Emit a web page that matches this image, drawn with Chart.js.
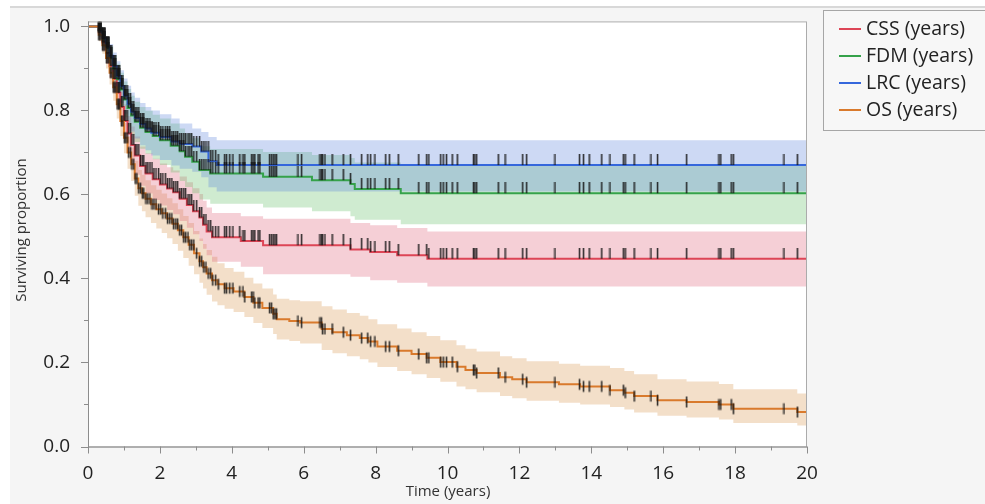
<!DOCTYPE html>
<html>
<head>
<meta charset="utf-8">
<script src="https://cdn.jsdelivr.net/npm/chart.js@4.4.1/dist/chart.umd.min.js"></script>
<style>
  html, body { margin: 0; padding: 0; background: #fff; }
  #wrap { width: 985px; height: 504px; }
</style>
</head>
<body>
<div id="wrap"><canvas id="km" width="985" height="504"></canvas></div>
<script>
// series labels and colours
const seriesNames = ['CSS (years)', 'FDM (years)', 'LRC (years)', 'OS (years)'];
const lineColors = ['#dd4556', '#35a24a', '#3567dc', '#d97a2c'];
const bandColors = ['rgba(222,95,118,0.3)', 'rgba(95,188,101,0.3)', 'rgba(88,128,218,0.3)', 'rgba(216,148,75,0.3)'];

// CSS
const cssTime  = [0, 0.3, 0.4, 0.5, 0.6, 0.7, 0.8, 0.9, 1.0, 1.1, 1.2, 1.3, 1.45, 1.6, 1.8, 2.0, 2.2, 2.37, 2.55, 2.75, 2.92, 3.1, 3.2, 3.3, 3.45, 4.25, 4.87, 7.3, 7.85, 8.6, 9.44, 20];
const cssSurv  = [1.0, 0.985, 0.962, 0.936, 0.906, 0.875, 0.842, 0.808, 0.775, 0.745, 0.718, 0.693, 0.668, 0.65, 0.636, 0.624, 0.614, 0.605, 0.59, 0.575, 0.56, 0.545, 0.528, 0.512, 0.498, 0.489, 0.479, 0.469, 0.463, 0.455, 0.447, 0.447];
const cssUpper = [1.0, 0.996, 0.98, 0.959, 0.934, 0.907, 0.877, 0.846, 0.815, 0.787, 0.762, 0.738, 0.714, 0.698, 0.685, 0.674, 0.665, 0.657, 0.643, 0.629, 0.615, 0.601, 0.585, 0.569, 0.556, 0.548, 0.542, 0.532, 0.527, 0.52, 0.512, 0.512];
const cssLower = [1.0, 0.97, 0.942, 0.911, 0.877, 0.842, 0.806, 0.769, 0.733, 0.702, 0.673, 0.647, 0.621, 0.602, 0.587, 0.574, 0.563, 0.553, 0.537, 0.521, 0.505, 0.489, 0.471, 0.455, 0.44, 0.428, 0.41, 0.404, 0.396, 0.39, 0.381, 0.381];

// FDM
const fdmTime  = [0, 0.3, 0.4, 0.5, 0.6, 0.7, 0.8, 0.9, 1.0, 1.1, 1.2, 1.3, 1.45, 1.6, 1.8, 2.0, 2.3, 2.55, 2.7, 2.9, 3.1, 3.4, 4.87, 6.23, 7.3, 7.42, 8.7, 20];
const fdmSurv  = [1.0, 0.99, 0.97, 0.948, 0.924, 0.899, 0.874, 0.85, 0.826, 0.806, 0.788, 0.773, 0.759, 0.749, 0.739, 0.729, 0.716, 0.703, 0.69, 0.678, 0.658, 0.65, 0.642, 0.634, 0.625, 0.613, 0.603, 0.603];
const fdmUpper = [1.0, 1.0, 0.988, 0.972, 0.953, 0.932, 0.911, 0.89, 0.869, 0.851, 0.835, 0.821, 0.808, 0.799, 0.79, 0.781, 0.769, 0.757, 0.745, 0.734, 0.715, 0.708, 0.701, 0.694, 0.687, 0.676, 0.668, 0.668];
const fdmLower = [1.0, 0.975, 0.95, 0.924, 0.896, 0.867, 0.839, 0.811, 0.784, 0.762, 0.742, 0.725, 0.709, 0.697, 0.684, 0.67, 0.652, 0.632, 0.618, 0.603, 0.588, 0.578, 0.569, 0.56, 0.548, 0.54, 0.529, 0.529];

// LRC
const lrcTime  = [0, 0.3, 0.4, 0.5, 0.6, 0.7, 0.8, 0.9, 1.0, 1.1, 1.2, 1.3, 1.45, 1.6, 1.76, 2.0, 2.32, 2.55, 2.9, 3.15, 3.35, 3.58, 20];
const lrcSurv  = [1.0, 0.99, 0.972, 0.952, 0.93, 0.906, 0.882, 0.858, 0.835, 0.815, 0.797, 0.782, 0.768, 0.757, 0.747, 0.737, 0.726, 0.72, 0.714, 0.702, 0.679, 0.67, 0.67];
const lrcUpper = [1.0, 1.0, 0.99, 0.975, 0.958, 0.938, 0.917, 0.896, 0.876, 0.859, 0.843, 0.83, 0.818, 0.808, 0.8, 0.791, 0.781, 0.769, 0.757, 0.749, 0.737, 0.729, 0.729];
const lrcLower = [1.0, 0.975, 0.952, 0.927, 0.9, 0.872, 0.845, 0.818, 0.792, 0.77, 0.75, 0.733, 0.717, 0.705, 0.693, 0.682, 0.669, 0.661, 0.654, 0.641, 0.617, 0.607, 0.607];

// OS
const osTime  = [0, 0.3, 0.4, 0.5, 0.6, 0.7, 0.8, 0.9, 1.0, 1.1, 1.2, 1.3, 1.4, 1.5, 1.6, 1.75, 1.9, 2.05, 2.2, 2.35, 2.5, 2.65, 2.8, 2.95, 3.1, 3.2, 3.3, 3.45, 3.6, 3.8, 4.05, 4.35, 4.6, 4.85, 5.15, 5.25, 5.6, 5.9, 6.5, 6.8, 7.2, 7.56, 7.8, 8.05, 8.6, 9.0, 9.42, 9.8, 10.25, 10.5, 10.81, 11.46, 11.8, 12.2, 13.1, 13.69, 14.52, 14.92, 15.19, 15.84, 16.65, 17.55, 17.95, 19.73, 20];
const osSurv  = [1.0, 0.98, 0.955, 0.925, 0.89, 0.855, 0.815, 0.775, 0.735, 0.70, 0.672, 0.638, 0.615, 0.603, 0.59, 0.577, 0.565, 0.555, 0.543, 0.53, 0.515, 0.498, 0.48, 0.46, 0.441, 0.427, 0.412, 0.396, 0.386, 0.377, 0.369, 0.356, 0.342, 0.33, 0.316, 0.303, 0.299, 0.295, 0.28, 0.272, 0.265, 0.258, 0.25, 0.238, 0.228, 0.22, 0.211, 0.201, 0.19, 0.182, 0.175, 0.165, 0.16, 0.153, 0.148, 0.143, 0.134, 0.128, 0.12, 0.11, 0.106, 0.10, 0.09, 0.082, 0.082];
const osUpper = [1.0, 0.99, 0.972, 0.946, 0.915, 0.883, 0.846, 0.808, 0.77, 0.738, 0.712, 0.68, 0.658, 0.647, 0.634, 0.622, 0.611, 0.602, 0.591, 0.579, 0.565, 0.549, 0.532, 0.513, 0.495, 0.482, 0.468, 0.452, 0.436, 0.425, 0.416, 0.402, 0.388, 0.376, 0.362, 0.352, 0.348, 0.346, 0.334, 0.326, 0.318, 0.311, 0.303, 0.291, 0.281, 0.272, 0.263, 0.253, 0.241, 0.233, 0.226, 0.215, 0.21, 0.203, 0.197, 0.192, 0.187, 0.18, 0.172, 0.16, 0.155, 0.149, 0.136, 0.126, 0.126];
const osLower = [1.0, 0.965, 0.935, 0.9, 0.862, 0.823, 0.781, 0.739, 0.698, 0.661, 0.632, 0.597, 0.573, 0.56, 0.546, 0.532, 0.519, 0.508, 0.496, 0.482, 0.466, 0.449, 0.43, 0.41, 0.39, 0.376, 0.361, 0.345, 0.336, 0.328, 0.32, 0.308, 0.294, 0.282, 0.268, 0.255, 0.251, 0.245, 0.23, 0.222, 0.215, 0.208, 0.2, 0.189, 0.18, 0.172, 0.163, 0.154, 0.143, 0.136, 0.129, 0.12, 0.115, 0.109, 0.104, 0.1, 0.094, 0.088, 0.081, 0.073, 0.069, 0.064, 0.056, 0.05, 0.05];

// censored follow-up times (shared cohort)
const censorTimes = [0.30, 0.33, 0.36, 0.40, 0.44, 0.47, 0.51, 0.55, 0.58, 0.62, 0.66, 0.70, 0.73, 0.77, 0.81, 0.85, 0.88, 0.93, 0.97,
  1.01, 1.05, 1.09, 1.13, 1.18, 1.22, 1.27, 1.31, 1.36, 1.41, 1.46, 1.51, 1.55, 1.61, 1.66, 1.72, 1.78, 1.83, 1.89, 1.96,
  2.02, 2.08, 2.15, 2.21, 2.27, 2.33, 2.38, 2.44, 2.49, 2.55, 2.60, 2.66, 2.71, 2.78, 2.83, 2.88, 2.94,
  3.02, 3.10, 3.16, 3.22, 3.28, 3.34, 3.41, 3.47, 3.55, 3.62, 3.80, 3.85, 3.94,
  4.03, 4.22, 4.31, 4.36, 4.55, 4.59, 4.64, 4.73, 4.78, 5.05, 5.10, 5.15, 5.20, 5.24, 5.84, 5.94,
  6.45, 6.49, 6.52, 6.59, 6.79, 7.10, 7.30, 7.61, 7.78, 7.86, 7.98, 8.28, 8.38, 8.63, 9.20, 9.42, 9.48, 9.81, 9.88, 9.97,
  10.13, 10.27, 10.72, 10.76, 10.81, 11.41, 11.60, 12.09, 12.20, 12.99, 13.67, 13.78, 13.94, 14.29, 14.52, 14.89, 14.94,
  15.19, 15.66, 15.84, 16.65, 17.55, 17.60, 17.89, 17.95, 19.36, 19.73];

// axis ticks
const xTicks = [0, 2, 4, 6, 8, 10, 12, 14, 16, 18, 20];
const xMinor = [1, 3, 5, 7, 9, 11, 13, 15, 17, 19];
const yTicks = [0, 0.2, 0.4, 0.6, 0.8, 1.0];
const yMinor = [0.1, 0.3, 0.5, 0.7, 0.9];

const FONT = "'Open Sans', 'Noto Sans', sans-serif";

function pts(times, vals) {
  return times.map((t, i) => ({ x: t, y: vals[i] }));
}

// KM value at time t (step function)
function survAt(times, vals, t) {
  let v = vals[0];
  for (let i = 0; i < times.length; i++) {
    if (times[i] <= t) v = vals[i]; else break;
  }
  return v;
}

// censor mark images
function makeTick(h, above) {
  const c = document.createElement('canvas');
  c.width = 3;
  c.height = h * 2;
  const g = c.getContext('2d');
  g.fillStyle = 'rgba(20,20,20,0.85)';
  if (above) g.fillRect(0.75, 0, 1.6, h);
  else g.fillRect(0.75, h / 2, 1.6, h);
  return c;
}
const tickAbove = makeTick(11, true);
const tickMid = makeTick(11, false);

const groups = [
  { time: cssTime, surv: cssSurv, upper: cssUpper, lower: cssLower, mark: tickAbove },
  { time: fdmTime, surv: fdmSurv, upper: fdmUpper, lower: fdmLower, mark: tickAbove },
  { time: lrcTime, surv: lrcSurv, upper: lrcUpper, lower: lrcLower, mark: tickAbove },
  { time: osTime, surv: osSurv, upper: osUpper, lower: osLower, mark: tickMid }
];

const bandOrder = [39, 38, 37, 40];
const datasets = [];
groups.forEach((g, i) => {
  datasets.push({
    label: 'band-up', data: pts(g.time, g.upper), stepped: true,
    borderWidth: 0, pointRadius: 0, fill: '+1', backgroundColor: bandColors[i], order: bandOrder[i]
  });
  datasets.push({
    label: 'band-lo', data: pts(g.time, g.lower), stepped: true,
    borderWidth: 0, pointRadius: 0, fill: false, order: bandOrder[i]
  });
});
groups.forEach((g, i) => {
  datasets.push({
    label: seriesNames[i], data: pts(g.time, g.surv), stepped: true,
    borderColor: lineColors[i], borderWidth: 2, pointRadius: 0, fill: false, order: 20 - i
  });
});
groups.forEach((g, i) => {
  datasets.push({
    type: 'scatter', label: 'censor', showLine: false,
    data: censorTimes.map(t => ({ x: t, y: survAt(g.time, g.surv, t) })),
    pointStyle: g.mark, pointRadius: 5, order: 5 - i
  });
});

const framePlugin = {
  id: 'frame',
  beforeDraw(chart) {
    const { ctx, chartArea: a, width, height } = chart;
    ctx.save();
    ctx.fillStyle = '#ffffff';
    ctx.fillRect(0, 0, width, height);
    ctx.fillStyle = '#f5f5f5';
    ctx.fillRect(10, 8, width - 10, height - 8);
    ctx.fillStyle = '#d8d8d8';
    ctx.fillRect(10, 6, width - 10, 2);
    ctx.fillStyle = '#ffffff';
    ctx.fillRect(a.left, a.top, a.right - a.left, a.bottom - a.top);
    ctx.restore();
  },
  afterDraw(chart) {
    const { ctx, chartArea: a } = chart;
    const xs = chart.scales.x, ys = chart.scales.y;
    ctx.save();
    // plot frame
    ctx.strokeStyle = '#ababab';
    ctx.lineWidth = 1;
    ctx.strokeRect(a.left + 0.5, a.top + 0.5, a.right - a.left - 1, a.bottom - a.top);
    ctx.strokeStyle = '#8c8c8c';
    ctx.beginPath();
    ctx.moveTo(a.left + 0.5, a.top);
    ctx.lineTo(a.left + 0.5, a.bottom + 0.5);
    ctx.lineTo(a.right, a.bottom + 0.5);
    ctx.stroke();
    // tick marks
    ctx.beginPath();
    xTicks.forEach(v => { const x = Math.round(xs.getPixelForValue(v)) + 0.5; ctx.moveTo(x, a.bottom); ctx.lineTo(x, a.bottom + 7); });
    xMinor.forEach(v => { const x = Math.round(xs.getPixelForValue(v)) + 0.5; ctx.moveTo(x, a.bottom); ctx.lineTo(x, a.bottom + 4); });
    yTicks.forEach(v => { const y = Math.round(ys.getPixelForValue(v)) + 0.5; ctx.moveTo(a.left, y); ctx.lineTo(a.left - 7, y); });
    yMinor.forEach(v => { const y = Math.round(ys.getPixelForValue(v)) + 0.5; ctx.moveTo(a.left, y); ctx.lineTo(a.left - 4, y); });
    ctx.stroke();
    // axis titles
    ctx.fillStyle = '#333';
    ctx.font = '15px ' + FONT;
    ctx.textAlign = 'center';
    ctx.textBaseline = 'middle';
    ctx.fillText('Time (years)', 448, 492);
    ctx.translate(22, 230);
    ctx.rotate(-Math.PI / 2);
    ctx.fillText('Surviving proportion', 0, 0);
    ctx.setTransform(1, 0, 0, 1, 0, 0);
    // legend
    ctx.fillStyle = '#f7f7f7';
    ctx.fillRect(823.5, 10.5, 170, 120);
    ctx.strokeStyle = '#a6a6a6';
    ctx.strokeRect(823.5, 10.5, 170, 120);
    ctx.font = '19.5px ' + FONT;
    ctx.textAlign = 'left';
    seriesNames.forEach((name, i) => {
      const y = 29 + i * 27;
      ctx.strokeStyle = lineColors[i];
      ctx.lineWidth = 2;
      ctx.beginPath();
      ctx.moveTo(839, y);
      ctx.lineTo(861, y);
      ctx.stroke();
      ctx.fillStyle = '#222';
      ctx.fillText(name, 866, y);
    });
    ctx.restore();
  }
};

new Chart(document.getElementById('km').getContext('2d'), {
  type: 'line',
  data: { datasets },
  options: {
    responsive: false,
    animation: false,
    devicePixelRatio: 1,
    layout: { padding: { top: 19, right: 178, left: 0, bottom: 0 } },
    plugins: { legend: { display: false }, tooltip: { enabled: false } },
    scales: {
      x: {
        type: 'linear', min: 0, max: 20,
        grid: { display: false }, border: { display: false },
        afterBuildTicks: s => { s.ticks = xTicks.map(v => ({ value: v })); },
        afterFit: s => { s.height = 57.5; },
        ticks: { font: { family: FONT, size: 19 }, color: '#222', padding: 8, maxRotation: 0, autoSkip: false, callback: v => String(v) }
      },
      y: {
        type: 'linear', min: 0, max: 1.012,
        grid: { display: false }, border: { display: false },
        afterBuildTicks: s => { s.ticks = yTicks.map(v => ({ value: v })); },
        afterFit: s => { s.width = 88; },
        ticks: { font: { family: FONT, size: 19 }, color: '#222', padding: 10, callback: v => v.toFixed(1) }
      }
    }
  },
  plugins: [framePlugin]
});
</script>
</body>
</html>
